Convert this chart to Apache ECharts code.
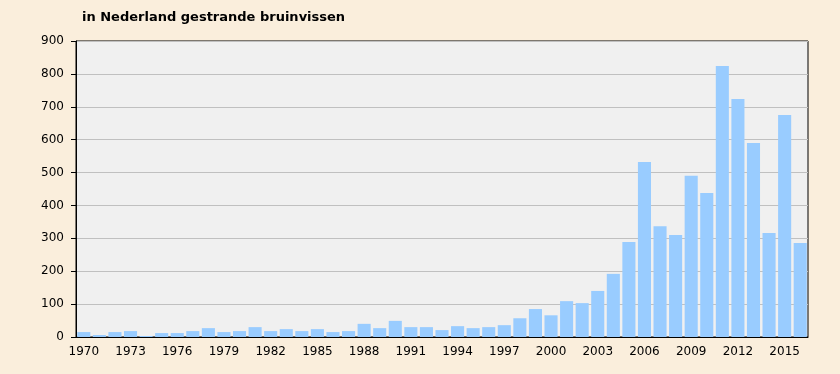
<!DOCTYPE html>
<html><head><meta charset="utf-8">
<script src="https://cdn.jsdelivr.net/npm/echarts@6/dist/echarts.min.js"></script>
<style>html,body{margin:0;padding:0;background:#FAEEDC;}#c{width:840px;height:374px;}</style>
</head><body><div id="c"></div>
<script>
const years = [];
for (let y = 1970; y <= 2016; y++) years.push(String(y));
const strandings = [15,6,15,18,3,12,12,18,27,15,18,30,18,24,18,24,15,18,40,27,49,30,30,21,33,27,30,36,57,85,66,109,103,140,192,289,532,337,310,490,438,824,724,590,316,675,286];
const titleText = 'in Nederland gestrande bruinvissen';
const yTicks = {min: 0, max: 900, interval: 100};

const chart = echarts.init(document.getElementById('c'), null, {renderer: 'canvas'});
chart.setOption({
  backgroundColor: '#FAEEDC',
  animation: false,
  title: {
    text: titleText, left: 77, top: 6,
    textStyle: {fontFamily: 'DejaVu Sans', fontSize: 13, fontWeight: 'bold', color: '#000'}
  },
  grid: {left: 76, right: 32, top: 41, bottom: 37, show: true, backgroundColor: '#F0F0F0', borderColor: '#000', borderWidth: 1},
  xAxis: {
    type: 'category', data: years, boundaryGap: true,
    axisLine: {lineStyle: {color: '#000', width: 1}},
    axisTick: {interval: 2, length: 5, lineStyle: {color: '#000'}},
    axisLabel: {interval: 2, color: '#000', fontFamily: 'DejaVu Sans', fontSize: 12, margin: 9}
  },
  yAxis: {
    type: 'value', min: yTicks.min, max: yTicks.max, interval: yTicks.interval,
    axisLine: {show: true, lineStyle: {color: '#000'}},
    axisTick: {show: true, length: 5, lineStyle: {color: '#000'}},
    axisLabel: {color: '#000', fontFamily: 'DejaVu Sans', fontSize: 12, margin: 12},
    splitLine: {lineStyle: {color: '#C0C0C0', width: 1}}
  },
  series: [{
    type: 'bar', data: strandings, barCategoryGap: '16%',
    itemStyle: {color: '#99CCFF'}
  }]
});
</script>
</body></html>
